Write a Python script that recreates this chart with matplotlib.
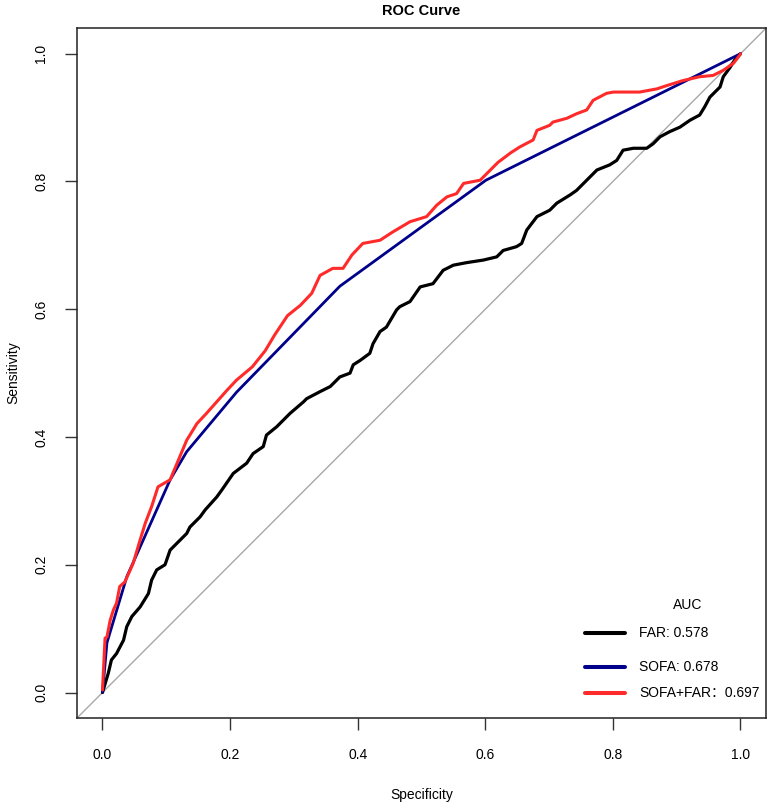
import matplotlib

matplotlib.use("Agg")
import matplotlib.pyplot as plt

plt.rcParams["font.family"] = ["Liberation Sans", "DejaVu Sans"]

# ROC curve points (x = 1 - specificity, y = sensitivity)
far_x = [0.0, 0.009, 0.014, 0.022, 0.033, 0.038, 0.046, 0.059, 0.072, 0.077,
         0.085, 0.098, 0.106, 0.116, 0.132, 0.137, 0.153, 0.161, 0.179, 0.187,
         0.205, 0.226, 0.236, 0.252, 0.257, 0.273, 0.294, 0.315, 0.320, 0.341,
         0.357, 0.372, 0.388, 0.393, 0.404, 0.419, 0.424, 0.435, 0.445, 0.461,
         0.466, 0.482, 0.498, 0.518, 0.534, 0.550, 0.571, 0.597, 0.618, 0.628,
         0.649, 0.657, 0.665, 0.681, 0.701, 0.712, 0.733, 0.743, 0.759, 0.775,
         0.795, 0.806, 0.816, 0.832, 0.853, 0.863, 0.874, 0.889, 0.905, 0.921,
         0.936, 0.944, 0.952, 0.968, 0.973, 0.984, 0.994, 1.0]
far_y = [0.0, 0.030, 0.051, 0.061, 0.082, 0.103, 0.119, 0.134, 0.155, 0.176,
         0.192, 0.200, 0.223, 0.233, 0.249, 0.259, 0.275, 0.286, 0.306, 0.317,
         0.343, 0.359, 0.374, 0.385, 0.403, 0.416, 0.437, 0.455, 0.460, 0.471,
         0.479, 0.494, 0.500, 0.513, 0.520, 0.531, 0.546, 0.565, 0.572, 0.599,
         0.604, 0.612, 0.635, 0.640, 0.661, 0.669, 0.673, 0.677, 0.682, 0.692,
         0.698, 0.703, 0.724, 0.745, 0.755, 0.766, 0.779, 0.786, 0.802, 0.818,
         0.826, 0.833, 0.849, 0.852, 0.852, 0.859, 0.870, 0.878, 0.885, 0.896,
         0.904, 0.917, 0.932, 0.948, 0.964, 0.979, 0.995, 1.0]

sofa_x = [0.0, 0.007, 0.038, 0.106, 0.132, 0.210, 0.372, 0.601, 1.0]
sofa_y = [0.0, 0.078, 0.181, 0.333, 0.377, 0.470, 0.636, 0.802, 1.0]

combo_x = [0.0, 0.004, 0.007, 0.012, 0.017, 0.022, 0.027, 0.035, 0.048, 0.059,
           0.067, 0.077, 0.087, 0.106, 0.119, 0.132, 0.137, 0.148, 0.163, 0.179,
           0.195, 0.210, 0.235, 0.255, 0.270, 0.290, 0.310, 0.328, 0.341, 0.361,
           0.377, 0.391, 0.408, 0.435, 0.455, 0.482, 0.508, 0.524, 0.540, 0.555,
           0.566, 0.592, 0.620, 0.640, 0.654, 0.675, 0.681, 0.701, 0.706, 0.728,
           0.743, 0.759, 0.769, 0.790, 0.801, 0.842, 0.869, 0.884, 0.910, 0.936,
           0.957, 0.973, 0.989, 0.999, 1.0]
combo_y = [0.004, 0.085, 0.087, 0.113, 0.129, 0.140, 0.166, 0.173, 0.202, 0.239,
           0.265, 0.291, 0.322, 0.333, 0.364, 0.395, 0.403, 0.421, 0.437, 0.455,
           0.473, 0.489, 0.510, 0.535, 0.560, 0.590, 0.606, 0.625, 0.653, 0.664,
           0.664, 0.685, 0.703, 0.708, 0.721, 0.737, 0.745, 0.763, 0.776, 0.781,
           0.797, 0.802, 0.830, 0.845, 0.854, 0.865, 0.880, 0.888, 0.893, 0.899,
           0.906, 0.912, 0.927, 0.938, 0.940, 0.940, 0.945, 0.950, 0.958, 0.964,
           0.966, 0.974, 0.985, 0.998, 1.0]

model_names = ["FAR", "SOFA", "SOFA+FAR"]
auc_values = [0.578, 0.678, 0.697]
colors = ["black", "#00008B", "#FF2A2A"]
ticks = [0.0, 0.2, 0.4, 0.6, 0.8, 1.0]

fig = plt.figure(figsize=(7.69, 8.05), dpi=100)
ax = fig.add_axes([0.1001, 0.108, 0.896, 0.857])

ax.axline((0, 0), (1, 1), color="#A8A8A8", lw=1.0, zorder=1)

curves = [(far_x, far_y), (sofa_x, sofa_y), (combo_x, combo_y)]
widths = [2.3, 2.0, 2.2]
for (xs, ys), col, lw in zip(curves, colors, widths):
    ax.plot(xs, ys, color=col, lw=lw, solid_capstyle="round",
            solid_joinstyle="round", zorder=2)

ax.set_xlim(-0.04, 1.04)
ax.set_ylim(-0.04, 1.04)
ax.set_xticks(ticks)
ax.set_yticks(ticks)
ax.set_xticklabels([f"{t:.1f}" for t in ticks])
ax.set_yticklabels([f"{t:.1f}" for t in ticks], rotation=90, va="center")
ax.tick_params(axis="both", direction="out", length=8.6, width=1.0,
               labelsize=10, color="#333333")
ax.tick_params(axis="x", pad=13)
ax.tick_params(axis="y", pad=12)
for sp in ax.spines.values():
    sp.set_linewidth(1.1)
    sp.set_color("#222222")

ax.set_xlabel("Specificity", fontsize=10)
ax.xaxis.set_label_coords(0.5, -0.1116)
ax.xaxis.label.set_verticalalignment("center")
ax.set_ylabel("Sensitivity", fontsize=10)
ax.yaxis.set_label_coords(-0.093, 0.5)
ax.yaxis.label.set_verticalalignment("center")

fig.text(0.548, 1 - 11 / 805, "ROC Curve", ha="center", va="center",
         fontsize=10.5, fontweight="bold")

# legend built by hand to keep the uneven row spacing of the original
ax.text(0.887, 0.164, "AUC", transform=ax.transAxes, ha="center",
        va="center", fontsize=10)
row_y = [0.123, 0.074, 0.036]
seps = [": ", ": ", "："]
for name, auc, col, ry, sep in zip(model_names, auc_values, colors, row_y, seps):
    ax.plot([0.737, 0.795], [ry, ry], transform=ax.transAxes, color=col,
            lw=2.9, solid_capstyle="round", clip_on=False)
    ax.text(0.816, ry, f"{name}{sep}{auc:.3f}", transform=ax.transAxes,
            ha="left", va="center", fontsize=10,
            family=["Liberation Sans", "Noto Sans CJK SC", "DejaVu Sans"])

fig.savefig("out.png", dpi=100)
plt.close(fig)
